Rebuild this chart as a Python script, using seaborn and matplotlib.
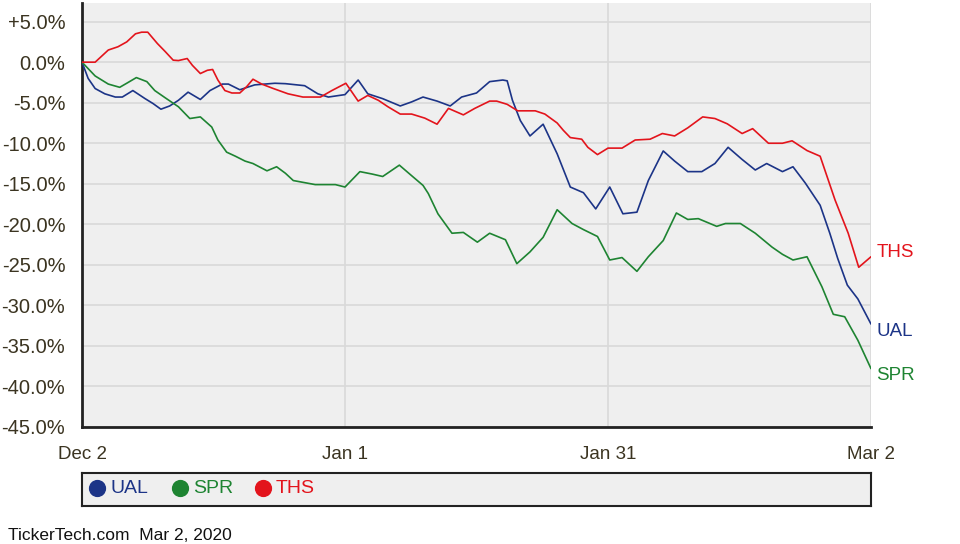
import pandas as pd
import seaborn as sns
import matplotlib.pyplot as plt

# days since Dec 2 (axis runs 0..90) and % change for each ticker
ual_days = [0, 0.7, 1.5, 2.6, 3.8, 4.6, 5.8, 7.2, 8.1, 9.0, 10.0, 11.0, 12.1, 13.5, 14.6, 16.0, 16.7,
            18.0, 19.7, 22.0, 23.2, 25.4, 26.9, 28.1, 30.0, 31.5, 32.6, 34.3, 36.3, 37.6, 38.9, 40.5,
            42.0, 43.3, 45.0, 46.5, 48.0, 48.5, 49.1, 50.0, 51.1, 52.6, 54.2, 55.7, 57.2, 58.6, 60.2,
            61.7, 63.3, 64.6, 66.3, 67.6, 69.1, 70.7, 72.2, 73.7, 75.3, 76.8, 78.1, 79.9, 81.1, 82.5,
            84.2, 85.3, 86.2, 87.3, 88.5, 90]
ual_pct = [0, -2.0, -3.25, -3.9, -4.3, -4.3, -3.5, -4.5, -5.1, -5.8, -5.4, -4.7, -3.7, -4.6, -3.5, -2.7, -2.7,
           -3.4, -2.8, -2.6, -2.65, -2.9, -3.9, -4.3, -4.0, -2.2, -3.9, -4.5, -5.4, -4.9, -4.3, -4.8,
           -5.4, -4.3, -3.8, -2.4, -2.2, -2.3, -4.7, -7.2, -9.1, -7.65, -11.3, -15.4, -16.1, -18.1, -15.4,
           -18.7, -18.5, -14.6, -10.95, -12.2, -13.5, -13.5, -12.5, -10.5, -12.0, -13.3, -12.5, -13.5, -12.9, -14.9,
           -17.65, -21.1, -24.2, -27.5, -29.2, -32.3]

spr_days = [0, 1.5, 3.0, 4.3, 5.1, 6.2, 7.4, 8.3, 9.5, 11.0, 12.3, 13.5, 14.8, 15.5, 16.5, 17.5, 18.6,
            19.5, 21.1, 22.2, 23.2, 24.1, 26.6, 28.9, 30.0, 31.7, 33.1, 34.3, 36.2, 37.6, 38.9, 39.5,
            40.6, 42.2, 43.5, 45.1, 46.5, 48.3, 49.6, 51.1, 52.6, 54.2, 55.9, 57.2, 58.8, 60.2, 61.6,
            63.3, 64.6, 66.3, 67.8, 69.1, 70.3, 72.4, 73.4, 75.1, 76.8, 78.7, 79.9, 81.1, 82.7, 84.4,
            85.7, 87.0, 88.5, 90]
spr_pct = [0, -1.7, -2.7, -3.1, -2.6, -1.9, -2.4, -3.5, -4.4, -5.5, -6.95, -6.75, -8.0, -9.6, -11.1, -11.6, -12.2,
           -12.5, -13.4, -12.9, -13.7, -14.6, -15.1, -15.1, -15.4, -13.5, -13.8, -14.1, -12.7, -14.0, -15.2, -16.2,
           -18.7, -21.1, -21.0, -22.2, -21.1, -21.9, -24.85, -23.4, -21.6, -18.2, -19.9, -20.65, -21.5, -24.4, -24.1,
           -25.8, -24.0, -22.0, -18.6, -19.4, -19.3, -20.25, -19.9, -19.9, -21.1, -22.8, -23.7, -24.4, -24.0, -27.7,
           -31.1, -31.4, -34.3, -37.8]

ths_days = [0, 1.5, 3.0, 4.1, 5.1, 6.1, 6.8, 7.5, 8.6, 9.5, 10.4, 11.0, 12.0, 12.6, 13.5, 14.3, 14.9,
            15.5, 16.3, 17.1, 18.0, 18.8, 19.5, 20.5, 21.7, 23.5, 25.2, 27.2, 28.5, 30.1, 31.5, 32.6,
            33.8, 34.9, 36.3, 37.6, 39.1, 40.5, 41.8, 43.5, 44.8, 46.5, 47.3, 48.5, 49.7, 51.7, 52.8,
            54.2, 54.9, 55.7, 57.0, 57.7, 58.8, 60.0, 61.6, 63.1, 64.8, 66.2, 67.6, 69.1, 70.8, 72.2,
            73.6, 75.3, 76.5, 78.3, 79.9, 81.0, 82.7, 84.2, 85.9, 87.4, 88.6, 90]
ths_pct = [0, 0, 1.5, 1.9, 2.5, 3.5, 3.7, 3.7, 2.3, 1.3, 0.25, 0.2, 0.45, -0.4, -1.4, -1.0, -0.9,
           -2.2, -3.5, -3.8, -3.8, -3.0, -2.1, -2.7, -3.2, -3.9, -4.3, -4.3, -3.5, -2.6, -4.8, -4.1,
           -4.7, -5.5, -6.4, -6.4, -6.9, -7.65, -5.7, -6.5, -5.7, -4.8, -4.8, -5.2, -6.0, -6.0, -6.4,
           -7.5, -8.4, -9.3, -9.5, -10.5, -11.4, -10.6, -10.6, -9.6, -9.5, -8.8, -9.1, -8.1, -6.75, -6.95,
           -7.6, -8.8, -8.2, -10.0, -10.0, -9.7, -10.9, -11.6, -17.0, -21.1, -25.3, -24.0]

tickers = ['UAL', 'SPR', 'THS']
colors = {'UAL': '#1c3487', 'SPR': '#1e8432', 'THS': '#e3141c'}
x_ticks = [0, 30, 60, 90]
x_labels = ['Dec 2', 'Jan 1', 'Jan 31', 'Mar 2']
y_ticks = list(range(-45, 6, 5))

df = pd.concat([
    pd.DataFrame({'day': ual_days, 'pct': ual_pct, 'ticker': 'UAL'}),
    pd.DataFrame({'day': spr_days, 'pct': spr_pct, 'ticker': 'SPR'}),
    pd.DataFrame({'day': ths_days, 'pct': ths_pct, 'ticker': 'THS'}),
])

sns.set_style('white')
plt.rcParams['font.family'] = ['Liberation Sans', 'DejaVu Sans']
txt = '#3b3421'

fig = plt.figure(figsize=(9.6, 5.44), dpi=100)
ax = fig.add_axes([82 / 960, 1 - 427 / 544, 789 / 960, 424 / 544])
ax.set_facecolor('#efefef')

sns.lineplot(data=df, x='day', y='pct', hue='ticker', palette=colors, hue_order=tickers,
             estimator=None, sort=False, legend=False, linewidth=1.2, ax=ax, zorder=3)

ax.set_xlim(0, 90)
ax.set_ylim(-45, 7.3)
ax.set_xticks(x_ticks)
ax.set_xticklabels(x_labels)
ax.set_xticks([15, 45, 75], minor=True)
ax.set_yticks(y_ticks)
ax.set_yticklabels(['0.0%' if v == 0 else f'{v:+.1f}%' for v in y_ticks])
ax.set_yticks([v + 2.5 for v in y_ticks[:-1]], minor=True)
ax.tick_params(which='both', direction='in', length=5, width=1.2, color='#222222',
               labelsize=13.5, labelcolor=txt)
ax.tick_params(axis='y', labelsize=14.5, pad=12)
ax.tick_params(axis='x', pad=14)
ax.grid(True, which='major', color='#d9d9d9', linewidth=1.2, zorder=0)
ax.set_xlabel('')
ax.set_ylabel('')
for s in ['top', 'right']:
    ax.spines[s].set_visible(False)
for s in ['left', 'bottom']:
    ax.spines[s].set_color('#222222')
    ax.spines[s].set_linewidth(2)

# labels at end of each line
offsets = {'UAL': -5.5, 'SPR': -5, 'THS': 3}
for t, days, vals in [('UAL', ual_days, ual_pct), ('SPR', spr_days, spr_pct), ('THS', ths_days, ths_pct)]:
    ax.annotate(t, (days[-1], vals[-1]), xytext=(4, offsets[t]), textcoords='offset points',
                color=colors[t], fontsize=13.5, va='center', ha='left', annotation_clip=False)

# legend box
lax = fig.add_axes([82 / 960, 1 - 506 / 544, 789 / 960, 33 / 544])
lax.set_facecolor('#efefef')
lax.set_xlim(0, 789)
lax.set_ylim(0, 1)
lax.set_xticks([])
lax.set_yticks([])
for s in lax.spines.values():
    s.set_color('#222222')
    s.set_linewidth(1.5)
for i, t in enumerate(tickers):
    x0 = 15 + i * 83
    lax.scatter([x0], [0.55], s=130, color=colors[t], zorder=3)
    lax.text(x0 + 13, 0.52, t, color=colors[t], fontsize=14, va='center', ha='left')

fig.text(8 / 960, 1 - 535 / 544, 'TickerTech.com  Mar 2, 2020', fontsize=12.5, color='#111111',
         va='center', ha='left')

fig.savefig('out.png', dpi=100)
